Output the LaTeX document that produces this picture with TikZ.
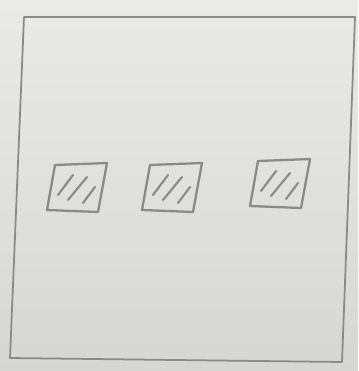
\documentclass[tikz,border=0pt]{standalone}
\usepackage{tikz}
\usepackage{xcolor}
\definecolor{paperlight}{RGB}{234, 234, 230}
\definecolor{paperdark}{RGB}{214, 214, 210}
\definecolor{pencil}{RGB}{138, 138, 135}
\usetikzlibrary{calc}

\begin{document}
\begin{tikzpicture}[x=0.02cm, y=-0.02cm]
  \tikzset{sketch/.style={draw=pencil, line width=1pt, line join=round, line cap=round}}
  % Paper
  \shade[top color=paperlight, bottom color=paperdark] (0,0) rectangle (358,371);
  \useasboundingbox (0,0) rectangle (358,371);
  % Outer frame
  \draw[sketch] (24,17) coordinate (tl) -- (355,17) coordinate (tr)
    -- (342,362) coordinate (br) -- (10,358) coordinate (bl) -- cycle;
  % Hatched squares
  \foreach \x/\y in {55/165, 150/165, 258/161} {
    \draw[sketch, line width=1.3pt] (\x,\y) -- ++(52,-2) -- ++(-9,49) -- ++(-51,-2) -- cycle;
    \foreach \a/\b/\c/\d in {3/30/18/10, 13/35/32/12, 28/38/40/22} {
      \draw[sketch, line width=1.2pt] ($(\x,\y)+(\a,\b)$) -- ($(\x,\y)+(\c,\d)$);
    }
  }
\end{tikzpicture}
\end{document}
